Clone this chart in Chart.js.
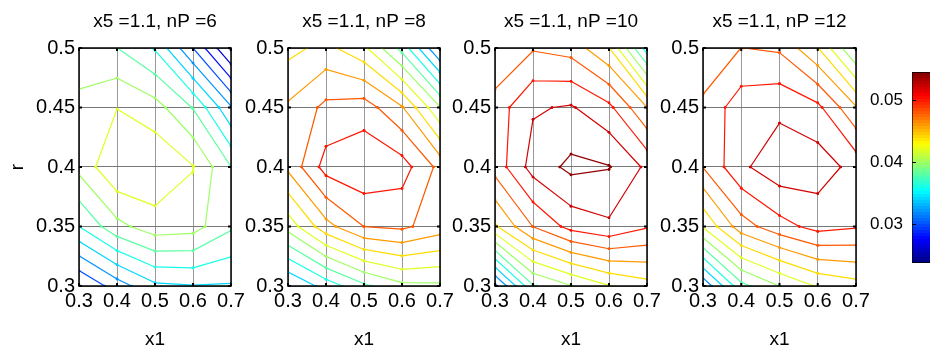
<!DOCTYPE html>
<html lang="en">
<head>
  <meta charset="UTF-8">
  <title>Contours of the response, x5 = 1.1</title>
  <script src="https://cdn.jsdelivr.net/npm/chart.js"></script>
  <style>
    body { margin: 0; background: #fff; width: 930px; height: 351px; overflow: hidden; position: relative; }
    canvas { position: absolute; top: 0; }
  </style>
</head>
<body>
<script>
  // sampling grid (columns = x1, rows = r from bottom to top)
  const x1Values = [0.3, 0.4, 0.5, 0.6, 0.7];
  const rValues = [0.3, 0.35, 0.4, 0.45, 0.5];
  const x5 = 1.1;
  const nPValues = [6, 8, 10, 12];

  // surface values, one row per r value
  const zNP6 = [
    [0.0279, 0.0310, 0.0336, 0.0339, 0.0338],
    [0.0360, 0.0394, 0.0411, 0.0408, 0.0383],
    [0.0406, 0.0438, 0.0437, 0.0421, 0.03802],
    [0.0408, 0.04195, 0.0408, 0.0379, 0.0322],
    [0.0382, 0.03802, 0.0358, 0.0300, 0.0237]
  ];
  const zNP8 = [
    [0.0319, 0.0348, 0.0376, 0.0395, 0.0396],
    [0.0408, 0.0453, 0.04802, 0.0484, 0.0470],
    [0.04645, 0.0508, 0.0516, 0.0509, 0.0474],
    [0.0463, 0.0485, 0.0490, 0.0462, 0.0401],
    [0.0434, 0.0446, 0.04246, 0.0373, 0.0298]
  ];
  const zNP10 = [
    [0.0295, 0.0378, 0.0399, 0.0419, 0.0432],
    [0.0437, 0.04805, 0.0507, 0.05164, 0.0502],
    [0.0488, 0.0528, 0.0545, 0.0541, 0.0516],
    [0.0489, 0.0518, 0.0522, 0.0505, 0.04602],
    [0.04598, 0.0478, 0.0472, 0.0441, 0.0350]
  ];
  const zNP12 = [
    [0.0304, 0.0374, 0.04002, 0.0422, 0.0432],
    [0.0422, 0.0471, 0.04925, 0.0507, 0.0502],
    [0.04805, 0.0516, 0.0533, 0.05305, 0.0513],
    [0.0485, 0.0511, 0.05154, 0.0505, 0.0462],
    [0.0462, 0.04802, 0.0477, 0.0441, 0.0377]
  ];

  const contourLevels = [0.024, 0.026, 0.028, 0.030, 0.032, 0.034, 0.036, 0.038,
                         0.040, 0.042, 0.044, 0.046, 0.048, 0.050, 0.052, 0.054];
  const colorLimits = [0.0237, 0.0545];
  const colorbarTicks = [0.03, 0.04, 0.05];

  const surfaces = [zNP6, zNP8, zNP10, zNP12];

  // where each panel's canvas sits
  const panelLayout = [
    { left: 0, width: 251, plot: 152 },
    { left: 209, width: 251, plot: 152 },
    { left: 416, width: 251, plot: 152 },
    { left: 624, width: 252, plot: 153 }
  ];

  const family = '"Liberation Sans", Arial, sans-serif';
  const tickFont = { family, size: 20 };
  const labelFont = { family, size: 19, weight: 'normal' };
  const barFont = { family, size: 17, weight: 'normal' };

  function jet(v) {
    const c = t => Math.round(255 * Math.max(0, Math.min(1, t)));
    return 'rgb(' + c(Math.min(4 * v - 1.5, -4 * v + 4.5)) + ',' +
      c(Math.min(4 * v - 0.5, -4 * v + 3.5)) + ',' +
      c(Math.min(4 * v + 0.5, -4 * v + 2.5)) + ')';
  }
  const levelColor = L => jet((L - colorLimits[0]) / (colorLimits[1] - colorLimits[0]));
  const fmt = v => String(+Number(v).toFixed(2));

  // marching squares on the grid, segments split by gaps
  function contourPath(z, level) {
    const out = [];
    for (let j = 0; j < rValues.length - 1; j++) {
      for (let i = 0; i < x1Values.length - 1; i++) {
        const c = [[i, j], [i + 1, j], [i + 1, j + 1], [i, j + 1]];
        const hit = [null, null, null, null];
        for (let e = 0; e < 4; e++) {
          const [ia, ja] = c[e], [ib, jb] = c[(e + 1) % 4];
          const za = z[ja][ia], zb = z[jb][ib];
          if ((za > level) !== (zb > level)) {
            const t = (level - za) / (zb - za);
            hit[e] = {
              x: x1Values[ia] + t * (x1Values[ib] - x1Values[ia]),
              y: rValues[ja] + t * (rValues[jb] - rValues[ja])
            };
          }
        }
        const edges = [0, 1, 2, 3].filter(e => hit[e]);
        let pairs = [];
        if (edges.length === 2) pairs = [edges];
        else if (edges.length === 4) {
          const mid = (z[j][i] + z[j][i + 1] + z[j + 1][i + 1] + z[j + 1][i]) / 4;
          pairs = ((z[j][i] > level) === (mid > level)) ? [[0, 1], [2, 3]] : [[3, 0], [1, 2]];
        }
        pairs.forEach(([a, b]) => out.push(hit[a], hit[b], { x: NaN, y: NaN }));
      }
    }
    return out;
  }

  // box around the axes with inward ticks, like the original plots
  const boxTicks = {
    id: 'boxTicks',
    afterDatasetsDraw(chart) {
      const { ctx, chartArea: a, scales: { x, y } } = chart;
      ctx.save();
      ctx.strokeStyle = '#000';
      ctx.lineWidth = 1.5;
      ctx.strokeRect(a.left, a.top, a.right - a.left, a.bottom - a.top);
      ctx.lineWidth = 2;
      ctx.beginPath();
      x.ticks.forEach(t => {
        const p = x.getPixelForValue(t.value);
        ctx.moveTo(p, a.bottom); ctx.lineTo(p, a.bottom - 3);
        ctx.moveTo(p, a.top); ctx.lineTo(p, a.top + 3);
      });
      y.ticks.forEach(t => {
        const p = y.getPixelForValue(t.value);
        ctx.moveTo(a.left, p); ctx.lineTo(a.left + 3, p);
        ctx.moveTo(a.right, p); ctx.lineTo(a.right - 3, p);
      });
      ctx.stroke();
      ctx.restore();
    }
  };

  function addCanvas(left, width) {
    const cv = document.createElement('canvas');
    cv.width = width;
    cv.height = 351;
    cv.style.left = left + 'px';
    cv.style.width = width + 'px';
    cv.style.height = '351px';
    document.body.appendChild(cv);
    return cv;
  }

  nPValues.forEach((nP, k) => {
    const z = surfaces[k];
    const datasets = contourLevels.map(L => {
      const col = levelColor(L);
      return {
        data: contourPath(z, L),
        showLine: true,
        borderColor: col,
        borderWidth: 1.2,
        borderCapStyle: 'round',
        pointRadius: 1.3,
        pointBackgroundColor: col,
        pointBorderWidth: 0,
        spanGaps: false
      };
    }).filter(d => d.data.length);

    const box = panelLayout[k];
    new Chart(addCanvas(box.left, box.width), {
      type: 'scatter',
      data: { datasets },
      options: {
        responsive: false,
        animation: false,
        devicePixelRatio: 1,
        layout: { padding: { left: 0, right: box.width - 79 - box.plot, top: 0, bottom: 0 } },
        plugins: {
          legend: { display: false },
          tooltip: { enabled: false },
          title: {
            display: true,
            fullSize: false,
            text: 'x5 =' + x5 + ', nP =' + nP,
            color: '#000',
            font: { family, size: 19, weight: 'normal', lineHeight: 1.2 },
            padding: { top: 10, bottom: 15.2 }
          }
        },
        scales: {
          x: {
            type: 'linear',
            min: x1Values[0],
            max: x1Values[x1Values.length - 1],
            afterBuildTicks: s => { s.ticks = x1Values.map(v => ({ value: v })); },
            afterFit: s => { s.height = 65; },
            ticks: { callback: fmt, font: tickFont, color: '#000', padding: 3, maxRotation: 0, autoSkip: false },
            grid: { color: '#999', lineWidth: 1, drawTicks: false },
            border: { display: false },
            title: { display: true, text: 'x1', color: '#000', font: labelFont, padding: { top: 0, bottom: 0 } }
          },
          y: {
            type: 'linear',
            min: rValues[0],
            max: rValues[rValues.length - 1],
            afterBuildTicks: s => { s.ticks = rValues.map(v => ({ value: v })); },
            afterFit: s => { s.width = 79; },
            ticks: { callback: fmt, font: tickFont, color: '#000', padding: 4, autoSkip: false },
            grid: { color: '#777', lineWidth: 1, borderDash: [1, 1], drawTicks: false },
            border: { display: false },
            title: { display: k === 0, text: 'r', color: '#000', font: labelFont, padding: { top: 6, bottom: 0 } }
          }
        }
      },
      plugins: [boxTicks]
    });
  });

  // colour bar
  function colormapFill(context) {
    const chart = context.chart;
    if (!chart.chartArea) return 'rgba(0,0,0,0)';
    const y = chart.scales.y;
    const g = chart.ctx.createLinearGradient(0, y.getPixelForValue(colorLimits[0]), 0, y.getPixelForValue(colorLimits[1]));
    const n = 64;
    for (let k = 0; k < n; k++) {
      const col = jet((k + 0.5) / n);
      g.addColorStop(k / n, col);
      g.addColorStop((k + 1) / n, col);
    }
    return g;
  }

  const barTicks = {
    id: 'barTicks',
    afterDatasetsDraw(chart) {
      const { ctx, chartArea: a, scales: { y } } = chart;
      ctx.save();
      ctx.strokeStyle = '#000';
      ctx.lineWidth = 1;
      ctx.beginPath();
      y.ticks.forEach(t => {
        const p = Math.round(y.getPixelForValue(t.value)) + 0.5;
        ctx.moveTo(a.left, p); ctx.lineTo(a.left + 4, p);
      });
      ctx.stroke();
      ctx.restore();
    }
  };

  new Chart(addCanvas(830, 110), {
    type: 'bar',
    data: {
      labels: [''],
      datasets: [{
        data: [colorLimits.slice()],
        backgroundColor: colormapFill,
        borderColor: '#000',
        borderWidth: 1,
        borderSkipped: false,
        barPercentage: 1,
        categoryPercentage: 1
      }]
    },
    options: {
      responsive: false,
      animation: false,
      devicePixelRatio: 1,
      layout: { padding: { top: 72, bottom: 88, left: 0, right: 8 } },
      plugins: { legend: { display: false }, tooltip: { enabled: false } },
      scales: {
        x: { display: false },
        y: {
          min: colorLimits[0],
          max: colorLimits[1],
          afterBuildTicks: s => { s.ticks = colorbarTicks.map(v => ({ value: v })); },
          afterFit: s => { s.width = 82; },
          ticks: { callback: fmt, font: barFont, color: '#000', padding: 9 },
          grid: { display: false, drawTicks: false },
          border: { display: false }
        }
      }
    },
    plugins: [barTicks]
  });
</script>
</body>
</html>
